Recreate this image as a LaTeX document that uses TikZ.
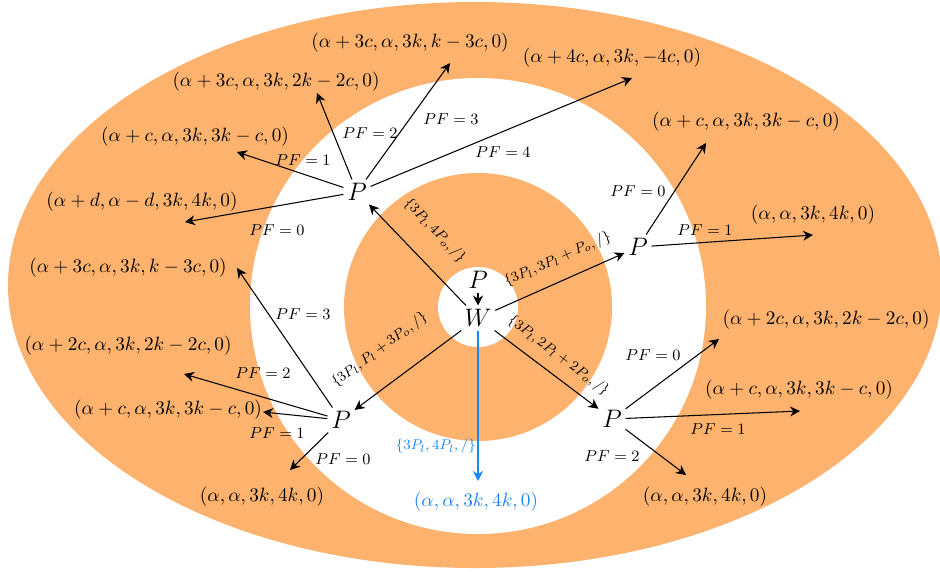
\documentclass[tikz,border=0pt]{standalone}
\usepackage{amsmath}
\usetikzlibrary{arrows.meta, positioning}

\definecolor{ringorange}{RGB}{253,178,110}
\definecolor{pathblue}{RGB}{25,135,250}

\begin{document}
\begin{tikzpicture}[
  player/.style={font=\Large, inner sep=2pt},
  outcome/.style={font=\fontsize{10.7pt}{13pt}\selectfont, inner sep=1pt},
  pflabel/.style={font=\small, inner sep=1pt},
  offer/.style={font=\footnotesize, sloped, inner sep=1pt},
  move/.style={-{Stealth[length=2mm, width=2mm]}, line width=0.6pt},
]
\useasboundingbox (0,0) rectangle (18.8,-11.42);

% Rings: outer orange, white, inner orange, white hole
\fill[ringorange] (9.5,-5.7) ellipse (9.34 and 5.66);
\fill[white] (9.56,-6.12) circle (4.56);
\fill[ringorange] (9.56,-6.14) circle (2.68);
\fill[white] (9.56,-6.14) circle (0.8);

% Proposer and centre
\node[player] (top) at (9.56,-5.6) {$P$};
\node[player] (W)   at (9.56,-6.36) {$W$};
\draw[move] (top) -- (W);

% Second-round proposers
\node[player] (p1) at (7.14,-3.84) {$P$};
\node[player] (p2) at (12.76,-4.94) {$P$};
\node[player] (p3) at (6.82,-8.4) {$P$};
\node[player] (p4) at (12.24,-8.38) {$P$};

\draw[move] (W) -- node[offer, pos=0.54, above=0.4cm] {$\{3P_l, 4P_o, /\}$} (p1);
\draw[move] (W) -- node[offer, pos=0.55, above=0.24cm] {$\{3P_l, 3P_l+P_o, /\}$} (p2);
\draw[move] (W) -- node[offer, pos=0.58, above=0.48cm] {$\{3P_l, P_l+3P_o, /\}$} (p3);
\draw[move] (W) -- node[offer, pos=0.51, above=0.18cm] {$\{3P_l, 2P_l+2P_o, /\}$} (p4);

% Direct acceptance (blue)
\node[outcome, text=pathblue] (lb) at (9.52,-10.04) {$(\alpha, \alpha, 3k, 4k, 0)$};
\coordinate (tb) at (9.56,-9.62);
\draw[move, draw=pathblue] (W) -- node[pos=0.77, left, font=\footnotesize, inner sep=1pt, text=pathblue] {$\{3P_l, 4P_l, /\}$} (tb);

% Upper-left proposer
\node[outcome] (l1a) at (2.84,-4.04) {$(\alpha+d, \alpha-d, 3k, 4k, 0)$};
\node[outcome] (l1b) at (3.9,-2.74) {$(\alpha+c, \alpha, 3k, 3k-c, 0)$};
\node[outcome] (l1c) at (5.52,-1.64) {$(\alpha+3c, \alpha, 3k, 2k-2c, 0)$};
\node[outcome] (l1d) at (8.2,-0.86) {$(\alpha+3c, \alpha, 3k, k-3c, 0)$};
\node[outcome] (l1e) at (12.24,-1.16) {$(\alpha+4c, \alpha, 3k, -4c, 0)$};
\coordinate (t1a) at (3.7,-4.44);
\coordinate (t1b) at (4.74,-3.04);
\coordinate (t1c) at (6.34,-1.86);
\coordinate (t1d) at (9.0,-1.26);
\coordinate (t1e) at (12.64,-1.56);
\draw[move] (p1) -- (t1a);
\draw[move] (p1) -- (t1b);
\draw[move] (p1) -- (t1c);
\draw[move] (p1) -- (t1d);
\draw[move] (p1) -- (t1e);
\node[pflabel] (f1a) at (5.54,-4.6) {$PF=0$};
\node[pflabel] (f1b) at (6.06,-3.2) {$PF=1$};
\node[pflabel] (f1c) at (7.4,-2.66) {$PF=2$};
\node[pflabel] (f1d) at (9.02,-2.38) {$PF=3$};
\node[pflabel] (f1e) at (10.06,-3.04) {$PF=4$};

% Right proposer
\node[outcome] (l2a) at (14.92,-2.44) {$(\alpha+c, \alpha, 3k, 3k-c, 0)$};
\node[outcome] (l2b) at (16.26,-4.3) {$(\alpha, \alpha, 3k, 4k, 0)$};
\coordinate (t2a) at (14.12,-2.86);
\coordinate (t2b) at (16.26,-4.7);
\draw[move] (p2) -- (t2a);
\draw[move] (p2) -- (t2b);
\node[pflabel] (f2a) at (12.76,-3.82) {$PF=0$};
\node[pflabel] (f2b) at (14.1,-4.6) {$PF=1$};

% Lower-left proposer
\node[outcome] (l3a) at (2.56,-5.36) {$(\alpha+3c, \alpha, 3k, k-3c, 0)$};
\node[outcome] (l3b) at (2.56,-6.92) {$(\alpha+2c, \alpha, 3k, 2k-2c, 0)$};
\node[outcome] (l3c) at (3.36,-8.2) {$(\alpha+c, \alpha, 3k, 3k-c, 0)$};
\node[outcome] (l3d) at (5.24,-9.94) {$(\alpha, \alpha, 3k, 4k, 0)$};
\coordinate (t3a) at (4.74,-5.36);
\coordinate (t3b) at (3.68,-7.48);
\coordinate (t3c) at (5.26,-8.24);
\coordinate (t3d) at (5.8,-9.4);
\draw[move] (p3) -- (t3a);
\draw[move] (p3) -- (t3b);
\draw[move] (p3) -- (t3c);
\draw[move] (p3) -- (t3d);
\node[pflabel] (f3a) at (6.06,-6.28) {$PF=3$};
\node[pflabel] (f3b) at (5.26,-7.46) {$PF=2$};
\node[pflabel] (f3c) at (5.54,-8.66) {$PF=1$};
\node[pflabel] (f3d) at (6.86,-9.18) {$PF=0$};

% Lower-right proposer
\node[outcome] (l4a) at (16.52,-6.4) {$(\alpha+2c, \alpha, 3k, 2k-2c, 0)$};
\node[outcome] (l4b) at (15.98,-7.8) {$(\alpha+c, \alpha, 3k, 3k-c, 0)$};
\node[outcome] (l4c) at (14.1,-9.94) {$(\alpha, \alpha, 3k, 4k, 0)$};
\coordinate (t4a) at (14.38,-6.78);
\coordinate (t4b) at (16.0,-8.22);
\coordinate (t4c) at (13.72,-9.5);
\draw[move] (p4) -- (t4a);
\draw[move] (p4) -- (t4b);
\draw[move] (p4) -- (t4c);
\node[pflabel] (f4a) at (13.06,-7.1) {$PF=0$};
\node[pflabel] (f4b) at (14.36,-8.58) {$PF=1$};
\node[pflabel] (f4c) at (12.24,-9.12) {$PF=2$};

\end{tikzpicture}
\end{document}
